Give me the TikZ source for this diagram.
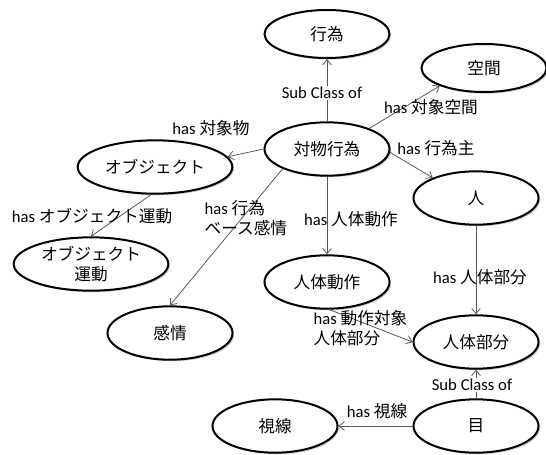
\documentclass[tikz,border=0pt]{standalone}
\usepackage{fontspec}
\setmainfont{Carlito}
\newfontfamily\cjk{Noto Sans CJK JP}
\newcommand{\jtxt}[1]{{\cjk #1}}
\usetikzlibrary{shapes.geometric,shadows,arrows.meta}
\tikzset{
  ent/.style={ellipse, draw=black, line width=1.5pt, fill=white,
    minimum width=93.75pt, minimum height=40pt, inner sep=0pt, align=center,
    font=\fontsize{12.5}{15}\selectfont\cjk,
    drop shadow={shadow xshift=1.2pt, shadow yshift=-1.2pt, opacity=0.35, fill=black!60}},
  wide/.style={minimum width=116pt},
  rel/.style={draw=black!65, line width=0.6pt, -{Straight Barb[length=4pt,width=6.5pt]}},
  lbl/.style={inner sep=1pt, font=\fontsize{12.5}{15}\selectfont, align=left},
  wlbl/.style={lbl, fill=white}
}
\begin{document}
\begin{tikzpicture}[x=0.75pt,y=-0.75pt]
\useasboundingbox (0,0) rectangle (546,454);
% entities
\node[ent, minimum height=36pt] (koui) at (327,34) {行為};
\node[ent, minimum height=36pt] (kukan) at (484,68) {空間};
\node[ent] (taibutsu) at (327,149) {対物行為};
\node[ent] (hito) at (476,198) {人};
\node[ent, wide] (obj) at (155,167) {オブジェクト};
\node[ent, wide] (undo) at (91,264) {オブジェクト\\運動};
\node[ent] (dousa) at (327,282) {人体動作};
\node[ent] (kanjo) at (170,333) {感情};
\node[ent] (bubun) at (476,342) {人体部分};
\node[ent] (me) at (476,426) {目};
\node[ent] (shisen) at (275,426) {視線};
% relations
\draw[rel] (taibutsu.north) -- (koui.south);
\draw[rel] (taibutsu.26) -- (kukan.202);
\draw[rel] (taibutsu.-3) -- (hito.155);
\draw[rel] (taibutsu.west) -- (obj.8);
\draw[rel] (taibutsu.204) -- (kanjo.north);
\draw[rel] (taibutsu.south) -- (dousa.north);
\draw[rel] (obj.262) -- (undo.north);
\draw[rel] (hito.south) -- (bubun.north);
\draw[rel] (dousa.-85) -- (bubun.west);
\draw[rel] (me.north) -- (bubun.south);
\draw[rel] (me.west) -- (shisen.east);
% labels
\node[wlbl] (l1) at (322,93) {Sub Class of};
\node[lbl] (l2) at (431,107) {has \jtxt{対象空間}};
\node[lbl] (l3) at (436,148) {has \jtxt{行為主}};
\node[lbl] (l4) at (211,128) {has \jtxt{対象物}};
\node[lbl, anchor=north west] (l5) at (203,199) {has \jtxt{行為}\\\jtxt{ベース感情}};
\node[lbl] (l6) at (92,216) {has \jtxt{オブジェクト運動}};
\node[lbl] (l7) at (351,219) {has \jtxt{人体動作}};
\node[lbl] (l8) at (480,277) {has \jtxt{人体部分}};
\node[lbl, anchor=north west] (l9) at (312,309) {has \jtxt{動作対象}\\\jtxt{人体部分}};
\node[wlbl] (l10) at (472,385) {Sub Class of};
\node[lbl] (l11) at (377,411) {has \jtxt{視線}};
\end{tikzpicture}
\end{document}
